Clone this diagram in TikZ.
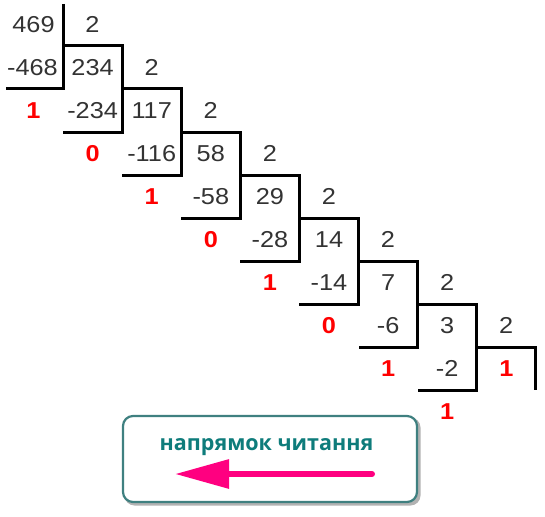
\documentclass[tikz,border=0pt]{standalone}
\usepackage{fontspec}
\setmainfont{Liberation Sans}[FakeStretch=1.1]
\newfontfamily\capfont{Open Sans}
\usepackage{tikz}
\usetikzlibrary{arrows.meta,shadows}
\definecolor{numgray}{HTML}{333333}
\definecolor{remred}{HTML}{FF0000}
\definecolor{boxteal}{HTML}{3F8080}
\definecolor{capteal}{HTML}{0E7C7B}
\definecolor{arrowpink}{HTML}{FF0080}
\tikzstyle{num} = [text=numgray, inner sep=0pt, font=\fontsize{23}{24}\selectfont]
\tikzstyle{rem} = [text=remred, inner sep=0pt, font=\fontsize{23}{24}\selectfont\bfseries]
\tikzstyle{frame} = [line width=3pt]
\tikzstyle{legend} = [draw=boxteal, line width=2.2pt, fill=white, rounded corners=10pt, minimum width=294pt, minimum height=86pt]
\tikzstyle{legendshadow} = [fill=black, opacity=0.3, rounded corners=10pt, minimum width=296pt, minimum height=88pt]
\tikzstyle{es} = [line width=6pt, arrowpink, line cap=round, -{Triangle[length=54pt,width=28pt]}]

\begin{document}
\begin{tikzpicture}[yscale=-1]
			\useasboundingbox (0pt,0pt) rectangle (545pt,516pt);
			\draw[frame] (63pt,4pt) -- (63pt,89pt) -- (6pt,89pt);
			\draw[frame] (63pt,46pt) -- (122.1pt,46pt) -- (122.1pt,132pt) -- (63pt,132pt);
			\draw[frame] (122.1pt,89pt) -- (181.2pt,89pt) -- (181.2pt,175pt) -- (122.1pt,175pt);
			\draw[frame] (181.2pt,132pt) -- (240.3pt,132pt) -- (240.3pt,218pt) -- (181.2pt,218pt);
			\draw[frame] (240.3pt,175pt) -- (299.4pt,175pt) -- (299.4pt,261pt) -- (240.3pt,261pt);
			\draw[frame] (299.4pt,218pt) -- (358.5pt,218pt) -- (358.5pt,304pt) -- (299.4pt,304pt);
			\draw[frame] (358.5pt,261pt) -- (417.6pt,261pt) -- (417.6pt,347pt) -- (358.5pt,347pt);
			\draw[frame] (417.6pt,304pt) -- (476.7pt,304pt) -- (476.7pt,390pt) -- (417.6pt,390pt);
			\draw[frame] (476.7pt,347pt) -- (535.8pt,347pt) -- (535.8pt,390pt);
			% dividends
			\node[num] (n0) at (33.5pt,24.5pt) {469};
			\node[num] (n1) at (92.6pt,67.5pt) {234};
			\node[num] (n2) at (151.7pt,110.5pt) {117};
			\node[num] (n3) at (210.8pt,153.5pt) {58};
			\node[num] (n4) at (269.9pt,196.5pt) {29};
			\node[num] (n5) at (329pt,239.5pt) {14};
			\node[num] (n6) at (388.1pt,282.5pt) {7};
			\node[num] (n7) at (447.2pt,325.5pt) {3};
			\node[rem] (n8) at (506.3pt,368.5pt) {1};
			% divisors
			\node[num] (d0) at (92.5pt,24.5pt) {2};
			\node[num] (d1) at (151.6pt,67.5pt) {2};
			\node[num] (d2) at (210.7pt,110.5pt) {2};
			\node[num] (d3) at (269.8pt,153.5pt) {2};
			\node[num] (d4) at (328.9pt,196.5pt) {2};
			\node[num] (d5) at (388pt,239.5pt) {2};
			\node[num] (d6) at (447.1pt,282.5pt) {2};
			\node[num] (d7) at (506.2pt,325.5pt) {2};
			% subtrahends
			\node[num] (s0) at (32.5pt,67.5pt) {-468};
			\node[num] (s1) at (92.6pt,110.5pt) {-234};
			\node[num] (s2) at (151.7pt,153.5pt) {-116};
			\node[num] (s3) at (210.8pt,196.5pt) {-58};
			\node[num] (s4) at (269.9pt,239.5pt) {-28};
			\node[num] (s5) at (329pt,282.5pt) {-14};
			\node[num] (s6) at (388.1pt,325.5pt) {-6};
			\node[num] (s7) at (447.2pt,368.5pt) {-2};
			% remainders
			\node[rem] (r0) at (33.5pt,110.5pt) {1};
			\node[rem] (r1) at (92.6pt,153.5pt) {0};
			\node[rem] (r2) at (151.7pt,196.5pt) {1};
			\node[rem] (r3) at (210.8pt,239.5pt) {0};
			\node[rem] (r4) at (269.9pt,282.5pt) {1};
			\node[rem] (r5) at (329pt,325.5pt) {0};
			\node[rem] (r6) at (388.1pt,368.5pt) {1};
			\node[rem] (r7) at (447.2pt,411.5pt) {1};
			% reading direction
			\node[legendshadow] (boxshadow) at (272.5pt,461.5pt) {};
			\node[legend] (box) at (270pt,459pt) {};
			\node[anchor=base, inner sep=0pt, text=capteal, font=\capfont\bfseries\fontsize{21.5}{24}\selectfont] (caption) at (266.5pt,450pt) {напрямок читання};
			\coordinate (arrowstart) at (372pt,474pt);
			\coordinate (arrowend) at (175pt,474pt);
			\draw[es] (arrowstart) -- (arrowend);
		\end{tikzpicture}
\end{document}
